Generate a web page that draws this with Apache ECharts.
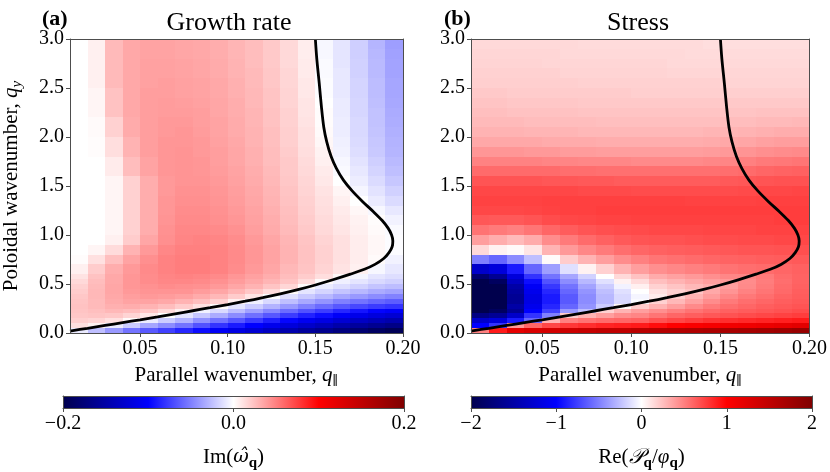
<!DOCTYPE html>
<html>
<head>
<meta charset="utf-8">
<script src="https://cdn.jsdelivr.net/npm/echarts@6/dist/echarts.min.js"></script>
<style>
  html, body { margin: 0; padding: 0; background: #ffffff; }
  #chart { width: 830px; height: 472px; }
</style>
</head>
<body>
<div id="chart"></div>
<script>
// Cell edges of the (q_par, q_y) scan
const qParEdges = [0.01, 0.02, 0.03, 0.04, 0.05, 0.06, 0.07, 0.08, 0.09, 0.10,
                   0.11, 0.12, 0.13, 0.14, 0.15, 0.16, 0.17, 0.18, 0.19, 0.20];
const qYEdges = [0, 0.05, 0.1, 0.15, 0.2, 0.25, 0.3, 0.35, 0.4, 0.45, 0.5, 0.55, 0.6,
                 0.7, 0.8, 0.9, 1.0, 1.1, 1.2, 1.3, 1.4, 1.5, 1.6, 1.7, 1.8, 1.9, 2.0,
                 2.1, 2.2, 2.3, 2.4, 2.5, 2.6, 2.7, 2.8, 2.9, 3.0];

// Im(omega_q): one row per q_y cell (bottom to top), one column per q_par cell
const growthRate = [
  [-0.008, -0.025, -0.04, -0.055, -0.065, -0.075, -0.085, -0.095, -0.105, -0.115, -0.125, -0.135, -0.145, -0.155, -0.163, -0.172, -0.18, -0.188, -0.195],
  [0.012, 0.005, -0.008, -0.02, -0.035, -0.045, -0.055, -0.068, -0.08, -0.09, -0.1, -0.11, -0.12, -0.13, -0.138, -0.147, -0.155, -0.162, -0.168],
  [0.019, 0.017, 0.012, 0.002, -0.008, -0.02, -0.03, -0.043, -0.055, -0.066, -0.077, -0.088, -0.098, -0.108, -0.116, -0.125, -0.133, -0.14, -0.146],
  [0.022, 0.023, 0.022, 0.017, 0.009, 0, -0.01, -0.022, -0.033, -0.045, -0.056, -0.066, -0.077, -0.087, -0.095, -0.104, -0.112, -0.119, -0.125],
  [0.023, 0.025, 0.028, 0.026, 0.022, 0.015, 0.006, -0.005, -0.015, -0.026, -0.037, -0.047, -0.058, -0.068, -0.076, -0.085, -0.092, -0.099, -0.103],
  [0.024, 0.027, 0.031, 0.032, 0.03, 0.026, 0.02, 0.012, 0.002, -0.01, -0.02, -0.03, -0.04, -0.05, -0.058, -0.066, -0.072, -0.077, -0.08],
  [0.023, 0.027, 0.033, 0.036, 0.036, 0.034, 0.03, 0.025, 0.018, 0.006, -0.006, -0.015, -0.025, -0.034, -0.042, -0.05, -0.055, -0.06, -0.064],
  [0.022, 0.028, 0.034, 0.038, 0.04, 0.039, 0.037, 0.033, 0.028, 0.02, 0.01, -0.001, -0.012, -0.021, -0.028, -0.035, -0.04, -0.045, -0.049],
  [0.02, 0.028, 0.035, 0.04, 0.042, 0.042, 0.042, 0.039, 0.035, 0.029, 0.022, 0.014, 0.002, -0.01, -0.017, -0.023, -0.028, -0.033, -0.036],
  [0.018, 0.027, 0.035, 0.041, 0.043, 0.045, 0.044, 0.043, 0.04, 0.035, 0.03, 0.023, 0.016, 0.002, -0.008, -0.013, -0.018, -0.023, -0.026],
  [0.015, 0.026, 0.034, 0.041, 0.045, 0.047, 0.047, 0.046, 0.043, 0.039, 0.034, 0.029, 0.023, 0.014, 0.002, -0.006, -0.01, -0.015, -0.018],
  [0.011, 0.024, 0.034, 0.041, 0.045, 0.048, 0.049, 0.048, 0.046, 0.041, 0.037, 0.032, 0.026, 0.02, 0.013, 0.003, -0.004, -0.01, -0.013],
  [0.006, 0.02, 0.032, 0.04, 0.046, 0.049, 0.051, 0.051, 0.049, 0.045, 0.04, 0.035, 0.028, 0.023, 0.017, 0.011, 0.006, -0.003, -0.009],
  [0.001, 0.012, 0.025, 0.036, 0.044, 0.049, 0.051, 0.051, 0.049, 0.046, 0.041, 0.036, 0.03, 0.024, 0.018, 0.012, 0.007, 0.002, -0.005],
  [0, 0.004, 0.014, 0.03, 0.04, 0.047, 0.05, 0.05, 0.049, 0.046, 0.041, 0.036, 0.03, 0.024, 0.018, 0.012, 0.007, 0.003, -0.001],
  [0, 0, 0.006, 0.02, 0.035, 0.044, 0.048, 0.049, 0.048, 0.045, 0.04, 0.035, 0.029, 0.023, 0.017, 0.012, 0.007, 0.003, -0.001],
  [0, 0, 0.004, 0.018, 0.032, 0.043, 0.047, 0.047, 0.046, 0.043, 0.038, 0.033, 0.027, 0.021, 0.015, 0.01, 0.006, 0.002, -0.002],
  [0, 0, 0.004, 0.018, 0.032, 0.042, 0.046, 0.046, 0.044, 0.041, 0.037, 0.032, 0.026, 0.02, 0.014, 0.009, 0.005, 0.001, -0.005],
  [0, 0, 0.004, 0.018, 0.032, 0.041, 0.045, 0.045, 0.043, 0.04, 0.036, 0.031, 0.025, 0.019, 0.013, 0.008, 0.003, -0.003, -0.009],
  [0, 0, 0.004, 0.018, 0.032, 0.041, 0.044, 0.044, 0.042, 0.039, 0.035, 0.03, 0.024, 0.018, 0.012, 0.006, 0, -0.008, -0.014],
  [0, 0, 0.004, 0.018, 0.032, 0.04, 0.043, 0.043, 0.041, 0.038, 0.034, 0.029, 0.023, 0.017, 0.011, 0.004, -0.004, -0.011, -0.018],
  [0, 0, 0.004, 0.018, 0.032, 0.04, 0.042, 0.042, 0.04, 0.037, 0.033, 0.028, 0.022, 0.016, 0.009, 0, -0.007, -0.014, -0.022],
  [0, 0, 0.008, 0.026, 0.036, 0.041, 0.042, 0.041, 0.039, 0.036, 0.032, 0.027, 0.021, 0.015, 0.008, -0.002, -0.009, -0.017, -0.025],
  [0, 0, 0.008, 0.026, 0.036, 0.041, 0.042, 0.041, 0.038, 0.035, 0.031, 0.026, 0.021, 0.014, 0.006, -0.003, -0.011, -0.019, -0.027],
  [0, 0.001, 0.013, 0.03, 0.038, 0.041, 0.042, 0.04, 0.038, 0.035, 0.031, 0.026, 0.02, 0.013, 0.005, -0.005, -0.013, -0.021, -0.029],
  [0, 0.001, 0.013, 0.03, 0.038, 0.041, 0.041, 0.04, 0.037, 0.034, 0.03, 0.025, 0.019, 0.012, 0.003, -0.006, -0.014, -0.022, -0.03],
  [0, 0.002, 0.018, 0.033, 0.038, 0.04, 0.041, 0.039, 0.036, 0.033, 0.03, 0.025, 0.019, 0.012, 0.002, -0.007, -0.015, -0.023, -0.031],
  [0, 0.002, 0.018, 0.033, 0.038, 0.04, 0.04, 0.038, 0.036, 0.033, 0.029, 0.024, 0.018, 0.011, 0.001, -0.007, -0.015, -0.024, -0.032],
  [0, 0.004, 0.024, 0.034, 0.038, 0.039, 0.039, 0.038, 0.035, 0.032, 0.029, 0.024, 0.018, 0.01, 0.001, -0.008, -0.016, -0.024, -0.033],
  [0, 0.004, 0.024, 0.034, 0.038, 0.039, 0.038, 0.037, 0.035, 0.032, 0.028, 0.023, 0.017, 0.01, 0, -0.008, -0.016, -0.025, -0.034],
  [0, 0.004, 0.024, 0.034, 0.038, 0.038, 0.037, 0.036, 0.034, 0.031, 0.028, 0.023, 0.017, 0.009, -0.001, -0.009, -0.017, -0.026, -0.035],
  [0, 0.006, 0.027, 0.034, 0.037, 0.038, 0.037, 0.036, 0.034, 0.031, 0.027, 0.022, 0.016, 0.009, -0.001, -0.009, -0.017, -0.026, -0.035],
  [0, 0.006, 0.027, 0.034, 0.037, 0.037, 0.036, 0.035, 0.033, 0.03, 0.027, 0.022, 0.016, 0.008, -0.002, -0.009, -0.018, -0.027, -0.036],
  [0, 0.006, 0.027, 0.034, 0.037, 0.037, 0.036, 0.035, 0.033, 0.03, 0.026, 0.021, 0.015, 0.008, -0.002, -0.01, -0.018, -0.027, -0.036],
  [0, 0.006, 0.027, 0.034, 0.036, 0.036, 0.035, 0.034, 0.032, 0.029, 0.026, 0.021, 0.015, 0.007, -0.003, -0.01, -0.019, -0.028, -0.037],
  [0, 0.006, 0.027, 0.034, 0.036, 0.036, 0.035, 0.034, 0.032, 0.029, 0.026, 0.021, 0.015, 0.007, -0.003, -0.01, -0.019, -0.029, -0.038]
];

// Re(P_q / phi_q) on the same cells
const stress = [
  [0.5, 0.9, 1.2, 1.3, 1.35, 1.4, 1.45, 1.5, 1.5, 1.55, 1.58, 1.6, 1.62, 1.65, 1.68, 1.7, 1.73, 1.77, 1.82],
  [-1.0, -0.8, 0.4, 0.6, 0.72, 0.78, 0.82, 0.86, 0.88, 0.9, 0.95, 1.0, 1.04, 1.07, 1.1, 1.12, 1.15, 1.18, 1.22],
  [-1.3, -1.2, -0.9, -0.6, 0.3, 0.5, 0.55, 0.58, 0.6, 0.62, 0.68, 0.72, 0.76, 0.8, 0.82, 0.84, 0.86, 0.88, 0.9],
  [-1.7, -1.6, -1.3, -0.8, -0.5, 0.2, 0.3, 0.38, 0.45, 0.48, 0.54, 0.6, 0.63, 0.66, 0.68, 0.7, 0.72, 0.74, 0.76],
  [-2.0, -1.9, -1.6, -1.0, -0.75, -0.4, -0.25, 0.18, 0.3, 0.38, 0.44, 0.5, 0.55, 0.59, 0.62, 0.64, 0.66, 0.68, 0.7],
  [-2.0, -2.0, -1.5, -1.1, -0.85, -0.6, -0.42, -0.2, 0.03, 0.2, 0.3, 0.38, 0.46, 0.52, 0.57, 0.6, 0.63, 0.65, 0.67],
  [-2.0, -2.0, -1.6, -1.15, -0.9, -0.65, -0.45, -0.28, -0.15, -0.02, 0.18, 0.28, 0.37, 0.45, 0.52, 0.57, 0.6, 0.63, 0.65],
  [-2.0, -2.0, -1.6, -1.15, -0.9, -0.65, -0.45, -0.28, -0.15, -0.04, 0.08, 0.2, 0.3, 0.39, 0.47, 0.53, 0.57, 0.61, 0.64],
  [-2.0, -2.0, -1.55, -1.1, -0.85, -0.6, -0.42, -0.25, -0.12, 0.0, 0.12, 0.18, 0.23, 0.34, 0.42, 0.49, 0.54, 0.59, 0.63],
  [-2.0, -2.0, -1.5, -1.05, -0.78, -0.55, -0.36, -0.2, -0.05, 0.06, 0.18, 0.23, 0.28, 0.32, 0.38, 0.46, 0.52, 0.58, 0.62],
  [-2.0, -1.9, -1.35, -0.95, -0.68, -0.45, -0.28, -0.12, 0.05, 0.14, 0.25, 0.3, 0.34, 0.38, 0.4, 0.45, 0.51, 0.57, 0.61],
  [-1.8, -1.6, -1.2, -0.8, -0.55, -0.35, -0.18, 0.0, 0.15, 0.24, 0.33, 0.37, 0.4, 0.44, 0.47, 0.48, 0.52, 0.58, 0.61],
  [-1.3, -1.2, -0.9, -0.6, -0.38, -0.12, 0.05, 0.18, 0.3, 0.38, 0.44, 0.47, 0.5, 0.52, 0.55, 0.57, 0.58, 0.6, 0.62],
  [-0.5, -0.6, -0.45, -0.25, 0.02, 0.2, 0.3, 0.38, 0.45, 0.5, 0.54, 0.56, 0.58, 0.6, 0.61, 0.62, 0.63, 0.64, 0.65],
  [0.15, 0.05, 0.02, 0.1, 0.3, 0.4, 0.47, 0.52, 0.57, 0.6, 0.62, 0.63, 0.64, 0.65, 0.66, 0.67, 0.67, 0.68, 0.69],
  [0.38, 0.32, 0.27, 0.33, 0.45, 0.52, 0.58, 0.62, 0.65, 0.67, 0.68, 0.68, 0.69, 0.7, 0.7, 0.71, 0.71, 0.72, 0.72],
  [0.55, 0.52, 0.5, 0.54, 0.6, 0.64, 0.67, 0.69, 0.7, 0.71, 0.72, 0.72, 0.72, 0.73, 0.73, 0.73, 0.74, 0.74, 0.74],
  [0.66, 0.65, 0.65, 0.67, 0.7, 0.72, 0.73, 0.74, 0.74, 0.75, 0.75, 0.75, 0.75, 0.75, 0.75, 0.75, 0.75, 0.76, 0.76],
  [0.72, 0.72, 0.72, 0.73, 0.74, 0.75, 0.75, 0.76, 0.76, 0.76, 0.76, 0.76, 0.76, 0.76, 0.76, 0.76, 0.76, 0.76, 0.76],
  [0.74, 0.74, 0.74, 0.74, 0.75, 0.75, 0.75, 0.75, 0.75, 0.75, 0.75, 0.75, 0.74, 0.74, 0.74, 0.74, 0.75, 0.75, 0.75],
  [0.72, 0.72, 0.72, 0.72, 0.72, 0.72, 0.71, 0.71, 0.71, 0.7, 0.7, 0.7, 0.7, 0.7, 0.7, 0.71, 0.72, 0.72, 0.73],
  [0.67, 0.67, 0.67, 0.67, 0.66, 0.66, 0.65, 0.65, 0.64, 0.64, 0.64, 0.64, 0.64, 0.64, 0.65, 0.66, 0.67, 0.68, 0.68],
  [0.58, 0.58, 0.58, 0.58, 0.58, 0.57, 0.57, 0.56, 0.56, 0.56, 0.56, 0.56, 0.56, 0.56, 0.57, 0.58, 0.6, 0.61, 0.62],
  [0.49, 0.49, 0.49, 0.49, 0.48, 0.48, 0.47, 0.47, 0.47, 0.46, 0.46, 0.46, 0.46, 0.47, 0.48, 0.5, 0.52, 0.53, 0.54],
  [0.41, 0.41, 0.41, 0.4, 0.4, 0.39, 0.39, 0.38, 0.38, 0.38, 0.38, 0.38, 0.38, 0.39, 0.4, 0.42, 0.44, 0.45, 0.46],
  [0.34, 0.34, 0.34, 0.34, 0.33, 0.33, 0.33, 0.32, 0.32, 0.32, 0.32, 0.32, 0.32, 0.33, 0.34, 0.35, 0.37, 0.38, 0.38],
  [0.3, 0.3, 0.3, 0.29, 0.29, 0.29, 0.28, 0.28, 0.28, 0.28, 0.28, 0.28, 0.28, 0.29, 0.29, 0.3, 0.31, 0.32, 0.32],
  [0.27, 0.27, 0.27, 0.26, 0.26, 0.26, 0.26, 0.25, 0.25, 0.25, 0.25, 0.25, 0.25, 0.25, 0.26, 0.26, 0.27, 0.27, 0.28],
  [0.25, 0.25, 0.24, 0.24, 0.24, 0.24, 0.23, 0.23, 0.23, 0.23, 0.23, 0.23, 0.23, 0.23, 0.23, 0.23, 0.24, 0.24, 0.24],
  [0.23, 0.23, 0.22, 0.22, 0.22, 0.22, 0.21, 0.21, 0.21, 0.21, 0.21, 0.21, 0.21, 0.21, 0.21, 0.21, 0.21, 0.21, 0.21],
  [0.21, 0.21, 0.2, 0.2, 0.2, 0.2, 0.2, 0.2, 0.2, 0.19, 0.19, 0.19, 0.19, 0.19, 0.19, 0.19, 0.19, 0.19, 0.19],
  [0.19, 0.19, 0.19, 0.19, 0.19, 0.19, 0.18, 0.18, 0.18, 0.18, 0.18, 0.18, 0.18, 0.18, 0.17, 0.17, 0.17, 0.17, 0.17],
  [0.18, 0.18, 0.18, 0.18, 0.18, 0.17, 0.17, 0.17, 0.17, 0.17, 0.17, 0.16, 0.16, 0.16, 0.16, 0.16, 0.16, 0.16, 0.16],
  [0.17, 0.17, 0.17, 0.17, 0.16, 0.16, 0.16, 0.16, 0.16, 0.16, 0.16, 0.15, 0.15, 0.15, 0.15, 0.15, 0.15, 0.15, 0.15],
  [0.16, 0.16, 0.16, 0.16, 0.16, 0.15, 0.15, 0.15, 0.15, 0.15, 0.15, 0.15, 0.14, 0.14, 0.14, 0.14, 0.14, 0.14, 0.14],
  [0.15, 0.15, 0.15, 0.15, 0.15, 0.15, 0.14, 0.14, 0.14, 0.14, 0.14, 0.14, 0.14, 0.13, 0.13, 0.13, 0.13, 0.13, 0.13]
];

// Marginal-stability curve Im(omega_q) = 0
const contourQPar = [0.010, 0.020, 0.030, 0.040, 0.050, 0.060, 0.070, 0.080, 0.090, 0.100,
                     0.110, 0.120, 0.130, 0.140, 0.150, 0.160, 0.170, 0.178, 0.184, 0.189,
                     0.192, 0.1938, 0.1942, 0.1935, 0.1915, 0.188, 0.183, 0.177, 0.171, 0.166,
                     0.162, 0.159, 0.1565, 0.1548, 0.1535, 0.1522, 0.1508, 0.1500];
const contourQY = [0.020, 0.048, 0.077, 0.106, 0.135, 0.165, 0.196, 0.227, 0.258, 0.290,
                   0.324, 0.360, 0.399, 0.442, 0.490, 0.543, 0.600, 0.650, 0.700, 0.760,
                   0.820, 0.880, 0.940, 1.000, 1.070, 1.150, 1.240, 1.340, 1.450, 1.560,
                   1.680, 1.800, 1.950, 2.100, 2.300, 2.550, 2.800, 3.000];

// Tick positions
const qParTicks = [0.05, 0.10, 0.15, 0.20];
const qYTicks = [0, 0.5, 1.0, 1.5, 2.0, 2.5, 3.0];
const growthBarTicks = [-0.2, 0, 0.2];
const stressBarTicks = [-2, -1, 0, 1, 2];

// matplotlib "seismic"
const seismic = ['#00004d', '#0000ff', '#ffffff', '#ff0000', '#800000'];

const FONT = 'Liberation Serif';
const AXIS_COLOR = '#4d4d4d';

function cells(field) {
  const out = [];
  for (let r = 0; r < field.length; r++) {
    for (let c = 0; c < field[r].length; c++) {
      out.push([qParEdges[c], qParEdges[c + 1], qYEdges[r], qYEdges[r + 1], field[r][c]]);
    }
  }
  return out;
}

function renderCell(params, api) {
  const tl = api.coord([api.value(0), api.value(3)]);
  const br = api.coord([api.value(1), api.value(2)]);
  const x0 = Math.round(tl[0]), y0 = Math.round(tl[1]);
  const x1 = Math.round(br[0]), y1 = Math.round(br[1]);
  return {
    type: 'rect',
    shape: { x: x0, y: y0, width: x1 - x0, height: y1 - y0 },
    style: { fill: api.visual('color') }
  };
}

const rich = {
  r: { fontFamily: FONT, fontSize: 21, color: '#000' },
  i: { fontFamily: FONT, fontSize: 21, fontStyle: 'italic', color: '#000' },
  w: { fontFamily: 'DejaVu Serif', fontSize: 19, fontStyle: 'italic', color: '#000' },
  s: { fontFamily: FONT, fontSize: 15, fontStyle: 'italic', color: '#000', padding: [12, 0, 0, 0] },
  sb: { fontFamily: FONT, fontSize: 15, fontWeight: 'bold', color: '#000', padding: [12, 0, 0, 0] },
  sp: { fontFamily: 'DejaVu Serif', fontSize: 13, color: '#000', padding: [12, 0, 0, 0] }
};

const tickLabel = { fontFamily: FONT, fontSize: 20, color: '#000', margin: 6 };

function lineOnly() {
  return { show: true, onZero: false, lineStyle: { color: AXIS_COLOR, width: 1 } };
}

function fmtSigned(digits) {
  return v => (v < -1e-9 ? '\u2212' : '') + Math.abs(v).toFixed(digits);
}

// axes for one framed box: bottom/top x and left/right y
function boxAxes(grid, xRange, yRange, opts) {
  const xs = [
    {
      type: 'value', gridIndex: grid, position: 'bottom', min: xRange[0], max: xRange[1], z: 10,
      axisLine: lineOnly(), splitLine: { show: false },
      axisTick: opts.xTicks ? { show: true, length: 4, lineStyle: { color: AXIS_COLOR }, customValues: opts.xTicks } : { show: false },
      axisLabel: opts.xTicks ? Object.assign({ customValues: opts.xTicks, formatter: opts.xFmt }, tickLabel) : { show: false },
      name: opts.xName || '', nameLocation: 'middle', nameGap: opts.xNameGap || 30,
      nameTextStyle: { rich: rich }
    },
    {
      type: 'value', gridIndex: grid, position: 'top', min: xRange[0], max: xRange[1], z: 10,
      axisLine: lineOnly(), axisTick: { show: false }, axisLabel: { show: false }, splitLine: { show: false }
    }
  ];
  const ys = [
    {
      type: 'value', gridIndex: grid, position: 'left', min: yRange[0], max: yRange[1], z: 10,
      axisLine: lineOnly(), splitLine: { show: false },
      axisTick: opts.yTicks ? { show: true, length: 4, lineStyle: { color: AXIS_COLOR }, customValues: opts.yTicks } : { show: false },
      axisLabel: opts.yTicks ? Object.assign({ customValues: opts.yTicks, formatter: v => v.toFixed(1) }, tickLabel) : { show: false },
      name: opts.yName || '', nameLocation: 'middle', nameGap: 45, nameRotate: 90,
      nameTextStyle: { rich: rich }
    },
    {
      type: 'value', gridIndex: grid, position: 'right', min: yRange[0], max: yRange[1], z: 10,
      axisLine: lineOnly(), axisTick: { show: false }, axisLabel: { show: false }, splitLine: { show: false }
    }
  ];
  return { xs, ys };
}

const qParName = '{r|Parallel wavenumber, }{i|q}{sp|\u2225}';
const qYName = '{r|Poloidal wavenumber, }{i|q}{s|y}';

const a = boxAxes(0, [0.01, 0.20], [0, 3], { xTicks: qParTicks, xFmt: v => v.toFixed(2), yTicks: qYTicks, xName: qParName, yName: qYName, xNameGap: 30 });
const b = boxAxes(1, [0.01, 0.20], [0, 3], { xTicks: qParTicks, xFmt: v => v.toFixed(2), yTicks: qYTicks, xName: qParName, xNameGap: 30 });
const ca = boxAxes(2, [-0.2, 0.2], [0, 1], { xTicks: growthBarTicks, xFmt: fmtSigned(1), xName: '{r|Im(}{w|\u03c9\u0302}{sb|q}{r|)}', xNameGap: 36 });
const cb = boxAxes(3, [-2, 2], [0, 1], { xTicks: stressBarTicks, xFmt: fmtSigned(0), xName: '{r|Re(}{i|\ud835\udcab}{sb|q}{r|/}{i|\u03c6}{sb|q}{r|)}', xNameGap: 36 });

const contourData = contourQPar.map((x, i) => [x, contourQY[i]]);

// colour mapping only; the bars themselves are drawn as gradients inside the colour-bar grids
function colorScale(seriesIndex, min, max) {
  return {
    type: 'continuous', seriesIndex: seriesIndex, dimension: 4, min: min, max: max,
    inRange: { color: seismic }, show: false
  };
}

const option = {
  backgroundColor: '#ffffff',
  animation: false,
  title: [
    { text: 'Growth rate', left: 229, top: 10, textAlign: 'center', padding: 0,
      textStyle: { fontFamily: FONT, fontSize: 26, fontWeight: 'normal', color: '#000' } },
    { text: 'Stress', left: 638, top: 10, textAlign: 'center', padding: 0,
      textStyle: { fontFamily: FONT, fontSize: 26, fontWeight: 'normal', color: '#000' } },
    { text: '(a)', left: 42, top: 8, padding: 0,
      textStyle: { fontFamily: FONT, fontSize: 22, fontWeight: 'bold', color: '#000' } },
    { text: '(b)', left: 444, top: 8, padding: 0,
      textStyle: { fontFamily: FONT, fontSize: 22, fontWeight: 'bold', color: '#000' } }
  ],
  grid: [
    { left: 63, top: 39, width: 340, height: 294 },
    { left: 471, top: 39, width: 341, height: 294 },
    { left: 63, top: 396, width: 341, height: 25 },
    { left: 471, top: 396, width: 341, height: 25 }
  ],
  xAxis: [].concat(a.xs, b.xs, ca.xs, cb.xs),
  yAxis: [].concat(a.ys, b.ys, ca.ys, cb.ys),
  visualMap: [
    colorScale(0, -0.2, 0.2),
    colorScale(2, -2, 2)
  ],
  series: [
    { type: 'custom', name: 'growth', xAxisIndex: 0, yAxisIndex: 0, renderItem: renderCell,
      data: cells(growthRate), encode: { x: [0, 1], y: [2, 3] }, clip: true, silent: true },
    { type: 'line', xAxisIndex: 0, yAxisIndex: 0, data: contourData, showSymbol: false, smooth: 0.3,
      lineStyle: { color: '#000', width: 2.8 }, silent: true, z: 5 },
    { type: 'custom', name: 'stress', xAxisIndex: 2, yAxisIndex: 2, renderItem: renderCell,
      data: cells(stress), encode: { x: [0, 1], y: [2, 3] }, clip: true, silent: true },
    { type: 'line', xAxisIndex: 2, yAxisIndex: 2, data: contourData, showSymbol: false, smooth: 0.3,
      lineStyle: { color: '#000', width: 2.8 }, silent: true, z: 5 }
  ]
};

const chart = echarts.init(document.getElementById('chart'), null, { renderer: 'canvas' });
chart.setOption(option);

// colour bars: a seismic gradient spanning each colour-bar axis from min to max
function colorbarRect(axisIndex, min, max) {
  const p0 = chart.convertToPixel({ xAxisIndex: axisIndex, yAxisIndex: axisIndex }, [min, 1]);
  const p1 = chart.convertToPixel({ xAxisIndex: axisIndex, yAxisIndex: axisIndex }, [max, 0]);
  return {
    type: 'rect', z: 5, silent: true,
    shape: { x: p0[0], y: p0[1], width: p1[0] - p0[0], height: p1[1] - p0[1] },
    style: {
      fill: new echarts.graphic.LinearGradient(0, 0, 1, 0,
        seismic.map((c, i) => ({ offset: i / (seismic.length - 1), color: c })))
    }
  };
}

chart.setOption({
  graphic: [
    colorbarRect(4, -0.2, 0.2),
    colorbarRect(6, -2, 2)
  ]
});
</script>
</body>
</html>
